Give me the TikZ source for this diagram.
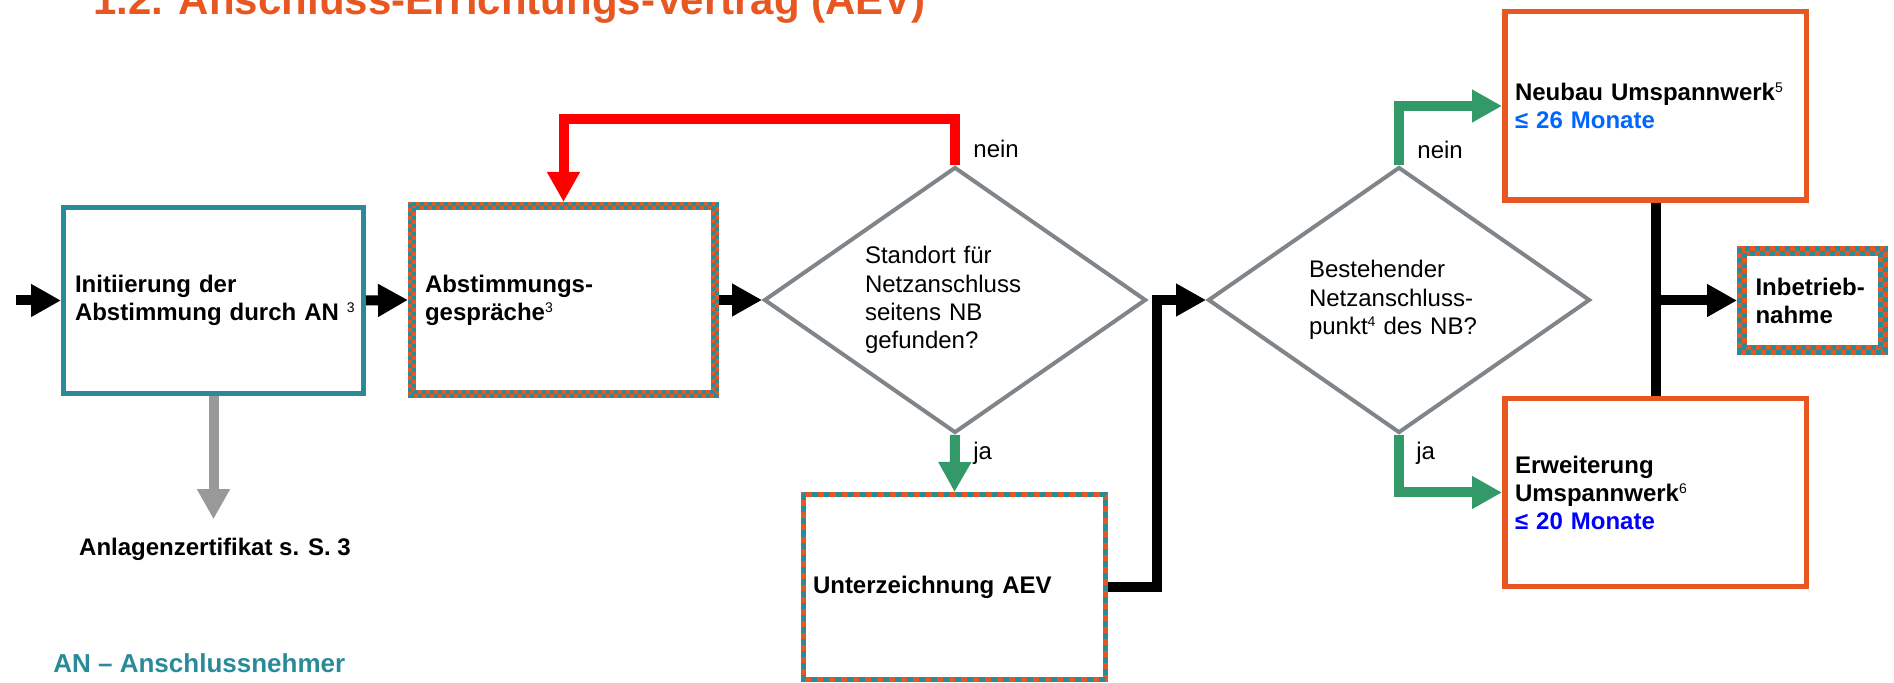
\documentclass[tikz,border=0pt]{standalone}
\usepackage{fontspec}
\setmainfont{Liberation Sans}
\usetikzlibrary{shapes.geometric,arrows.meta}
\definecolor{aeorange}{RGB}{232,87,34}
\definecolor{aeteal}{RGB}{42,139,152}
\definecolor{aegray}{RGB}{128,133,137}
\definecolor{aegreen}{RGB}{52,153,104}
\definecolor{aelight}{RGB}{0,102,255}
\definecolor{aearrow}{RGB}{153,153,153}
\newcommand{\hochzahl}[1]{\raisebox{4pt}{\fontsize{7}{7}\selectfont\mdseries #1}}
\newcommand{\chequer}[2]{%
  \pgfmathsetmacro{\qa}{#2/4}%
  \pgfmathsetmacro{\qb}{3*#2/4}%
  \pgfmathsetmacro{\sq}{#2/4}%
  \draw[line width=\sq pt, aeorange, postaction={draw=aeteal, dash pattern=on \sq pt off \sq pt}]
    ([shift={(\qa,\qa)}]#1.north west) rectangle ([shift={(-\qa,-\qa)}]#1.south east);
  \draw[line width=\sq pt, aeorange, postaction={draw=aeteal, dash pattern=on \sq pt off \sq pt}]
    ([shift={(\qb,\qb)}]#1.north west) rectangle ([shift={(-\qb,-\qb)}]#1.south east);
}

\begin{document}
\begin{tikzpicture}[x=0.5pt,y=-0.5pt,
  box/.style={rectangle,inner ysep=0pt,align=left,font=\bfseries\fontsize{12}{14}\selectfont},
  ask/.style={diamond,draw=aegray,line width=2pt,aspect=1.44,minimum width=191pt,minimum height=133pt,
    inner sep=0pt,text width=90pt,align=left,font=\fontsize{12}{14.2}\selectfont},
  lbl/.style={anchor=base west,inner sep=0pt,font=\fontsize{12}{14}\selectfont},
  fat/.style={line width=5pt,-{Triangle[length=15pt,width=15.5pt]}}]
\useasboundingbox (0,0) rectangle (1894,683);

\node[anchor=base west,inner sep=0pt,text=aeorange,font=\bfseries\fontsize{21}{25}\selectfont] (title) at (93,15)
  {1.2. Anschluss-Errichtungs-Vertrag (AEV)};

\node[box,draw=aeteal,line width=2.5pt,minimum width=150pt,minimum height=93pt,inner xsep=5.75pt,text width=138.5pt] (ini) at (213.5,300.5)
  {Initiierung der\\\mbox{Abstimmung durch AN~\hochzahl{3}}};
\node[box,outer sep=0pt,minimum width=155.5pt,minimum height=98pt,inner xsep=8.5pt,text width=138.5pt] (ab) at (563.5,300)
  {Abstimmungs-\\gespräche\hochzahl{3}};
\node[ask] (d1) at (955,300) {Standort für\\Netzanschluss\\seitens NB\\gefunden?};
\node[box,outer sep=0pt,minimum width=153.5pt,minimum height=95pt,inner xsep=6pt,text width=141.5pt] (sig) at (954.5,587)
  {Unterzeichnung AEV};
\node[ask] (d2) at (1399,300) {Bestehender\\Netzanschluss-\\punkt\hochzahl{4} des NB?};
\node[box,draw=aeorange,line width=2.75pt,minimum width=150.75pt,minimum height=94.25pt,inner xsep=5.125pt,text width=140.5pt] (neu) at (1655.5,106)
  {Neubau Umspannwerk\hochzahl{5}\\{\color{aelight}≤ 26 Monate}};
\node[box,draw=aeorange,line width=2.75pt,minimum width=150.75pt,minimum height=93.75pt,inner xsep=5.125pt,text width=140.5pt] (erw) at (1655.5,492.5)
  {Erweiterung\\Umspannwerk\hochzahl{6}\\{\color{blue}≤ 20 Monate}};
\node[box,outer sep=0pt,minimum width=75.5pt,minimum height=54.5pt,inner xsep=9.25pt,text width=57pt] (ibn) at (1812.5,300.5)
  {Inbetrieb-\\nahme};

\node[anchor=base,inner sep=0pt,font=\bfseries\fontsize{12}{14}\selectfont] (anl) at (215,555) {Anlagenzertifikat s. S. 3};
\node[anchor=base west,inner sep=0pt,text=aeteal,font=\bfseries\fontsize{13}{15}\selectfont] (leg) at (53,672) {AN – Anschlussnehmer};

\node[lbl] (nein1) at (973,158) {nein};
\node[lbl] (ja1) at (973,460) {ja};
\node[lbl] (nein2) at (1417,159) {nein};
\node[lbl] (ja2) at (1416,460) {ja};

\chequer{ab}{8}
\chequer{ibn}{10}
\draw[line width=2.5pt,aeorange,postaction={draw=aeteal,dash pattern=on 3pt off 3pt}]
  ([shift={(2.5,2.5)}]sig.north west) rectangle ([shift={(-2.5,-2.5)}]sig.south east);

\coordinate (start) at (16,300.5);
\coordinate (fork) at (neu.south |- ibn.west);
\draw[fat] (start) -- (ini.west);
\draw[fat] (ini.east) -- (ab.west);
\draw[fat] (ab.east) -- (d1.west);
\draw[fat,red] (d1.north) -- ++(0,-46) -| (ab.north);
\draw[fat,aegreen] (d1.south) -- (sig.north);
\draw[fat] (sig.east) -- ++(49,0) |- (d2.west);
\draw[fat,aegreen] (d2.north) |- (neu.west);
\draw[fat,aegreen] (d2.south) |- (erw.west);
\draw[line width=5pt] (neu.south) -- (erw.north);
\draw[fat] (fork) -- (ibn.west);
\draw[fat,aearrow,shorten >=9pt] (ini.south) -- (ini.south |- anl.north);
\end{tikzpicture}
\end{document}
